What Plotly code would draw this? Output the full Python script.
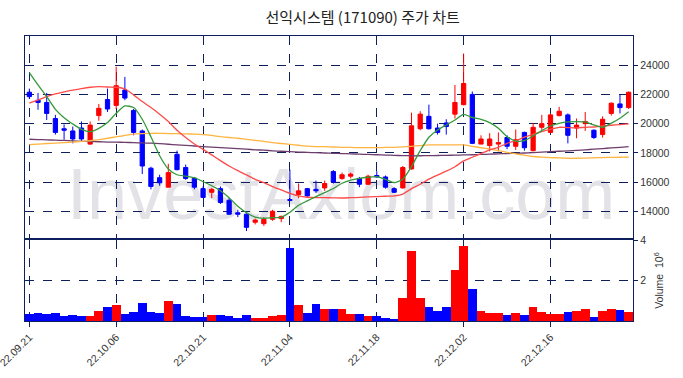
import plotly.graph_objects as go

dates = ["22.09.21","22.09.22","22.09.23","22.09.26","22.09.27","22.09.28","22.09.29","22.09.30",
         "22.10.04","22.10.05","22.10.06","22.10.07","22.10.11","22.10.12","22.10.13","22.10.14",
         "22.10.17","22.10.18","22.10.19","22.10.20","22.10.21","22.10.24","22.10.25","22.10.26",
         "22.10.27","22.10.28","22.10.31","22.11.01","22.11.02","22.11.03","22.11.04","22.11.07",
         "22.11.08","22.11.09","22.11.10","22.11.11","22.11.14","22.11.15","22.11.16","22.11.17",
         "22.11.18","22.11.21","22.11.22","22.11.23","22.11.24","22.11.25","22.11.28","22.11.29",
         "22.11.30","22.12.01","22.12.02","22.12.05","22.12.06","22.12.07","22.12.08","22.12.09",
         "22.12.12","22.12.13","22.12.14","22.12.15","22.12.16","22.12.19","22.12.20","22.12.21",
         "22.12.22","22.12.23","22.12.26","22.12.27","22.12.28","22.12.29"]

open_ = [22150,21600,21450,20350,19650,19500,19700,18600,20550,21650,
         21250,22300,20900,19500,16950,16300,15650,17900,17000,16250,
         15550,15300,15550,14750,13900,13800,13250,13150,13450,13500,
         14800,15150,15550,15500,15600,16720,16250,16400,16250,15850,
         16450,16350,15550,15600,16900,19650,20500,19700,20050,20650,
         21300,22000,18600,18500,18600,19050,18450,19400,18150,19750,
         19400,20550,20600,19700,20000,19550,19250,20700,21350,21100]
high = [22400,22100,22100,20600,19950,19800,20150,20150,21350,22400,
        23900,23200,21000,19600,17050,16500,17250,18150,17200,16350,
        15700,15600,15700,14900,14100,13850,13500,13600,14100,13700,
        16850,15900,15600,16100,16100,16820,16650,16650,16350,16500,
        16750,16450,15650,17100,20750,20850,21300,20000,20300,22650,
        24800,22200,19200,19350,19400,19200,19600,19450,20050,20600,
        20700,21150,20700,20350,20800,19600,20500,21450,22000,22200]
low = [21700,20950,20250,19250,18900,18650,18750,18550,20200,20800,
       21000,21600,19200,16550,15500,15750,15650,16800,16150,15500,
       14900,14900,14500,13750,13600,12650,13100,13000,13350,13250,
       14700,14900,15000,15250,15400,15900,16150,16250,15650,15800,
       16300,15550,15250,15550,16850,19550,19600,19250,19250,20350,
       21250,18600,18600,18100,18100,18250,18200,18150,18100,19550,
       19350,20500,18650,19000,19500,18950,19050,20550,20700,21000]
close = [21850,21450,20700,19400,19550,18950,18950,19900,21050,21000,
         22600,21750,19400,17100,15700,15950,16650,16850,16250,15650,
         14950,15500,14600,13800,13800,12900,13400,13450,14000,13650,
         14750,15400,15050,15400,15900,16000,16500,16550,15850,16400,
         16350,15650,15300,17000,19850,20650,19650,19400,19800,21450,
         22750,18650,18950,18950,18700,18450,18900,18350,19750,20000,
         20600,20850,19200,19900,20150,19050,20300,21400,21100,22150]

ma5 = [23500,22650,21850,20980,20410,19980,19610,19450,19680,20070,
       20710,21210,21100,20300,19100,17800,16900,16500,16400,16300,
       16030,15750,15410,14930,14350,13900,13600,13520,13560,13590,
       13930,14410,14710,15000,15280,15560,15920,16140,16260,16330,
       16370,16190,15960,16190,17060,18150,19070,19570,19910,20250,
       20640,20420,20300,20070,19680,19110,18810,18840,19160,19520,
       19840,20020,20120,20140,20120,19910,19750,20030,20370,20820]
ma20 = [21400,21620,21850,22030,22170,22290,22400,22490,22540,22510,
        22490,22380,21970,21510,21100,20650,20150,19550,19050,18610,
        18240,17860,17470,17100,16780,16490,16190,15960,15690,15460,
        15230,15050,14960,14930,14930,14920,14910,14930,14950,14990,
        15010,15030,15060,15180,15550,15850,16200,16480,16750,17050,
        17450,17700,17950,18200,18380,18650,18840,19070,19270,19450,
        19610,19750,19730,19710,19750,19770,19840,19890,19930,19980]
ma60 = [18570,18600,18640,18670,18700,18740,18780,18830,18900,19000,
        19100,19200,19280,19320,19340,19340,19320,19310,19300,19280,
        19250,19190,19110,19050,19000,18920,18850,18780,18700,18640,
        18580,18520,18460,18430,18420,18400,18380,18370,18360,18360,
        18360,18370,18380,18410,18450,18500,18540,18550,18550,18550,
        18540,18450,18350,18250,18150,18040,17930,17840,17750,17710,
        17680,17650,17630,17630,17640,17660,17680,17690,17700,17700]
ma120 = [18930,18910,18890,18870,18850,18820,18790,18770,18760,18740,
         18730,18720,18700,18680,18660,18630,18590,18550,18510,18470,
         18430,18390,18360,18320,18290,18250,18210,18180,18140,18110,
         18080,18050,18030,18010,17990,17970,17950,17930,17910,17890,
         17870,17850,17830,17810,17800,17800,17810,17820,17830,17840,
         17860,17870,17890,17910,17930,17950,17970,17990,18020,18050,
         18080,18110,18140,18170,18210,18250,18290,18340,18380,18430]

volume_m = [0.35,0.40,0.35,0.40,0.25,0.30,0.27,0.27,0.50,0.70,
            0.80,0.35,0.45,0.90,0.45,0.40,1.00,0.85,0.25,0.20,
            0.20,0.30,0.30,0.25,0.15,0.30,0.15,0.15,0.25,0.30,
            3.60,0.80,0.40,0.85,0.60,0.60,0.60,0.35,0.35,0.25,
            0.25,0.15,0.10,1.15,3.45,1.15,0.70,0.50,0.70,2.50,
            3.70,1.60,0.50,0.40,0.40,0.30,0.40,0.30,0.70,0.45,
            0.35,0.35,0.45,0.50,0.60,0.20,0.50,0.60,0.55,0.45]

tick_dates = dates[::10]
price_ticks = [14000, 16000, 18000, 20000, 22000, 24000]
title_text = "선익시스템 (171090) 주가 차트"
watermark = "InvestAxiom.com"

UP = "#ff0000"
DOWN = "#0000ff"
NAVY = "#0d1f5c"
vol_colors = [UP if c >= o else DOWN for o, c in zip(open_, close)]

fig = go.Figure()
fig.add_trace(go.Candlestick(
    x=dates, open=open_, high=high, low=low, close=close,
    increasing=dict(line=dict(color=UP, width=1), fillcolor=UP),
    decreasing=dict(line=dict(color=DOWN, width=1), fillcolor=DOWN),
    xaxis="x", yaxis="y", showlegend=False))
for vals, col in [(ma120, "#6e3d6e"), (ma60, "#ffb440"), (ma20, "#ff4a4a"), (ma5, "#33993a")]:
    fig.add_trace(go.Scatter(x=dates, y=vals, mode="lines",
                             line=dict(color=col, width=1.3, shape="spline", smoothing=0.6),
                             xaxis="x", yaxis="y", showlegend=False, hoverinfo="skip"))
fig.add_trace(go.Bar(x=dates, y=volume_m, marker=dict(color=vol_colors, line=dict(width=0)),
                     xaxis="x2", yaxis="y2", showlegend=False))

axis_common = dict(showline=True, mirror=True, linecolor=NAVY, linewidth=1.3,
                   gridcolor=NAVY, griddash="dash", gridwidth=1,
                   tickcolor=NAVY, zeroline=False, automargin=False)
tickfont = dict(family="Liberation Sans", size=10.5, color="#333333")

fig.update_layout(
    width=683, height=378,
    margin=dict(l=25, r=50, t=36, b=57, autoexpand=False),
    paper_bgcolor="white", plot_bgcolor="white",
    bargap=0,
    title=dict(text=title_text, x=0.531, xanchor="center", y=0.954, yanchor="middle",
               automargin=False,
               font=dict(family="Noto Sans CJK KR", size=15, color="#222222")),
    xaxis=dict(axis_common, type="category", domain=[0, 1], anchor="y",
               range=[-0.5, 69.5], tickmode="array", tickvals=tick_dates,
               showticklabels=False, ticks="outside", ticklen=3,
               rangeslider=dict(visible=False)),
    yaxis=dict(axis_common, domain=[0.2912, 1], side="right", range=[12170, 26000],
               tickmode="array", tickvals=price_ticks, tickformat="d",
               ticks="outside", ticklen=4, tickfont=tickfont),
    xaxis2=dict(axis_common, type="category", domain=[0, 1], anchor="y2", matches="x",
                range=[-0.5, 69.5], tickmode="array", tickvals=tick_dates,
                tickangle=-45, ticks="outside", ticklen=5, tickfont=tickfont),
    yaxis2=dict(axis_common, domain=[0, 0.2842], side="right", range=[0, 4.0],
                tickmode="array", tickvals=[2, 4], ticks="outside", ticklen=4,
                tickfont=tickfont,
                title=dict(text="Volume  10<sup>6</sup>", standoff=10,
                           font=dict(family="Liberation Sans", size=10.5, color="#333333"))),
    shapes=[dict(type="rect", xref="paper", yref="paper",
                 x0=0.0, x1=1.04, y0=0.30, y1=0.64, line=dict(width=0),
                 fillcolor="rgba(0,0,0,0)", layer="below",
                 label=dict(text=watermark, textposition="middle center",
                            font=dict(family="Liberation Sans", size=72, color="#e2e2e7")))],
)

fig.write_html("out.html", config={"displayModeBar": False},
               post_script="document.body.style.margin='0';document.body.style.overflow='hidden';")
